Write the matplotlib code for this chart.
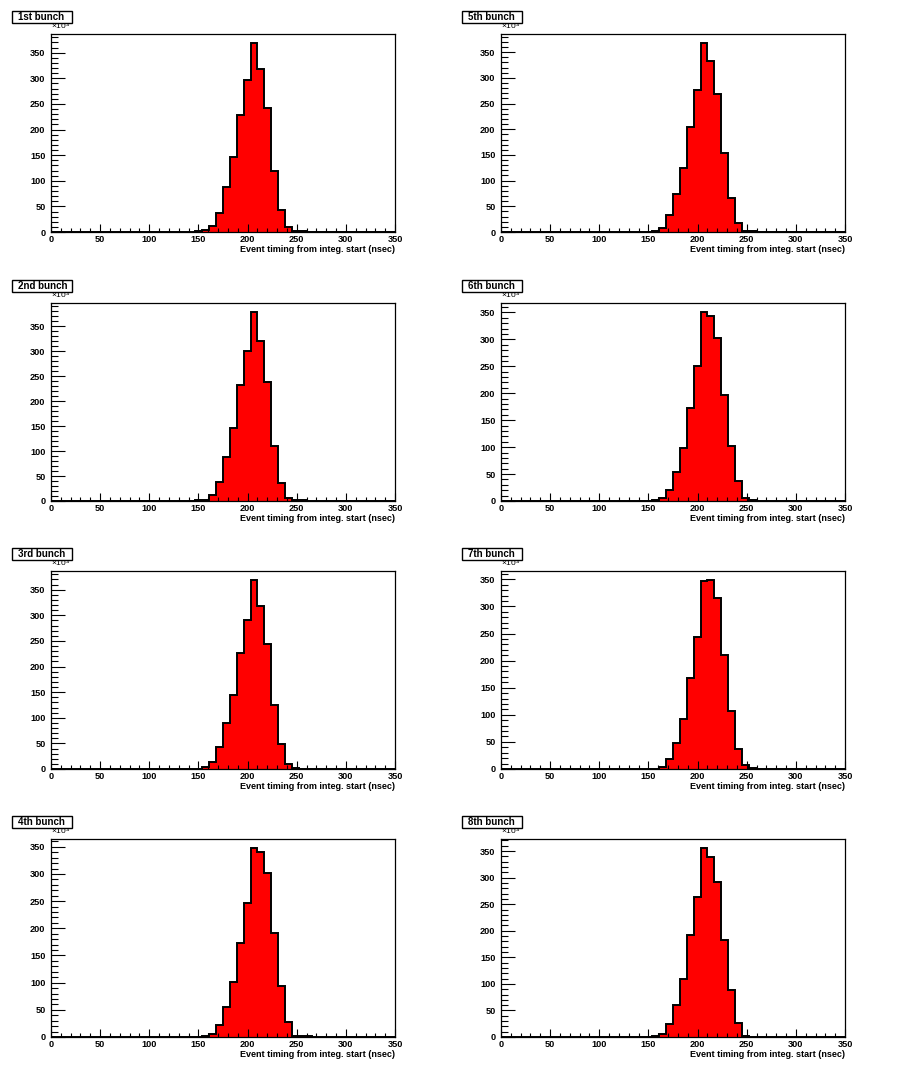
import numpy as np
import matplotlib
matplotlib.use('Agg')
import matplotlib.pyplot as plt
from matplotlib.ticker import MultipleLocator
from matplotlib.patches import Rectangle

plt.rcParams['font.family'] = ['Liberation Sans', 'DejaVu Sans']
plt.rcParams['mathtext.fontset'] = 'custom'
plt.rcParams['mathtext.rm'] = 'Liberation Sans'
plt.rcParams['mathtext.it'] = 'Liberation Sans'

# histogram binning (nsec)
bin_width = 7
x_max = 350
first_bin = 147   # lower edge of first filled bin

bunch_labels = ['1st bunch', '2nd bunch', '3rd bunch', '4th bunch',
                '5th bunch', '6th bunch', '7th bunch', '8th bunch']

# entries per bin (x10^3), bins 147,154,...,259
bunch1 = [1, 3.5, 11, 38, 88, 147, 229, 296, 368, 319, 242, 119, 43, 9, 2, 1.5, 0.8]
bunch2 = [1.3, 2.7, 11.4, 39, 89, 147, 233, 301, 378, 321, 238, 110, 37, 6.7, 1.3, 1.3, 0.5]
bunch3 = [0.7, 3.3, 13.7, 43, 90, 145, 227, 291, 368, 319, 244, 125, 49.5, 10.4, 1.3, 0.8, 0.5]
bunch4 = [0.5, 2.5, 6.2, 23, 56, 101, 173, 247, 347, 341, 301, 191, 93, 28, 2.5, 1.2, 1.2]
bunch5 = [0.3, 1.3, 8.5, 33, 74, 125, 204, 277, 367, 333, 269, 153, 67, 18, 2.6, 1.3, 0.5]
bunch6 = [0.4, 1.2, 5, 21, 53, 99, 172.5, 250, 350, 344, 303, 197, 103, 38, 5.6, 1.2, 0.6]
bunch7 = [0.3, 0.6, 4.3, 19, 48, 93, 168, 243.5, 347, 348, 316, 210, 107, 37, 7.4, 1.2, 0.6]
bunch8 = [0.3, 1.3, 5, 25, 61, 109, 192, 264, 355, 338, 291, 183, 88, 26.5, 1.9, 0.6, 0.3]

bunches = [bunch1, bunch2, bunch3, bunch4, bunch5, bunch6, bunch7, bunch8]

W, H = 898, 1073
fig = plt.figure(figsize=(W / 100, H / 100), dpi=100)

col_left = [51, 501]
row_top = [34, 303, 571, 839]
ax_w, ax_h = 344, 198

edges = np.arange(0, x_max + 1, bin_width)
start = first_bin // bin_width

for i, (label, counts) in enumerate(zip(bunch_labels, bunches)):
    col, row = divmod(i, 4)
    x0 = col_left[col]
    y0 = row_top[row]
    ax = fig.add_axes([x0 / W, 1 - (y0 + ax_h) / H, ax_w / W, ax_h / H])

    full = np.zeros(len(edges) - 1)
    full[start:start + len(counts)] = counts
    ax.stairs(full, edges, fill=True, facecolor='red', edgecolor='none')
    ax.stairs(full, edges, color='black', lw=1.4)

    ax.set_xlim(0, x_max)
    ax.set_ylim(0, full.max() * 1.05)
    ax.xaxis.set_major_locator(MultipleLocator(50))
    ax.xaxis.set_minor_locator(MultipleLocator(10))
    ax.yaxis.set_major_locator(MultipleLocator(50))
    ax.yaxis.set_minor_locator(MultipleLocator(10))
    ax.tick_params(which='both', direction='in', top=False, right=False,
                   labelsize=6.6, width=0.8)
    ax.tick_params(axis='x', which='major', length=6, pad=2)
    ax.tick_params(axis='x', which='minor', length=3)
    ax.tick_params(axis='y', which='major', length=10, pad=4)
    ax.tick_params(axis='y', which='minor', length=5)
    for t in ax.get_xticklabels() + ax.get_yticklabels():
        t.set_fontweight('bold')
    for s in ax.spines.values():
        s.set_linewidth(0.9)

    ax.set_xlabel('Event timing from integ. start (nsec)', loc='right',
                  fontsize=6.5, fontweight='bold', labelpad=1)
    ax.text(0.0, 1.01, r'$\times10^{3}$', transform=ax.transAxes,
            fontsize=6, ha='left', va='bottom')

    # title box
    bx, by, bw, bh = x0 - 39, y0 - 23, 60, 12
    fig.patches.append(Rectangle((bx / W, 1 - (by + bh) / H), bw / W, bh / H,
                                 transform=fig.transFigure, facecolor='white',
                                 edgecolor='black', lw=1))
    fig.text((bx + 6) / W, 1 - (by + bh / 2) / H, label, fontsize=7,
             fontweight='bold', ha='left', va='center')

fig.savefig('out.png', dpi=100)
